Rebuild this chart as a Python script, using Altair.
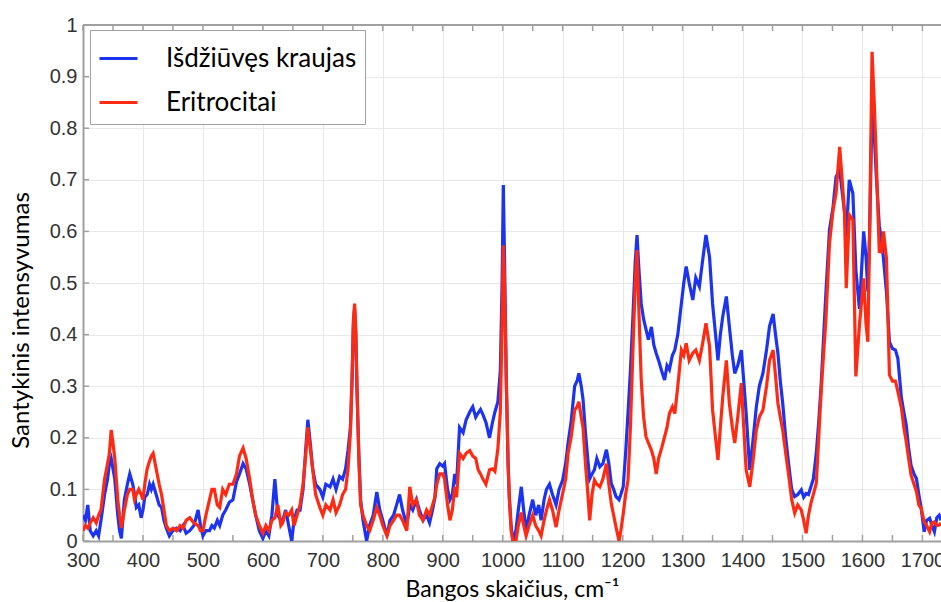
import altair as alt
import pandas as pd

# Raman spectra: relative intensity vs. wavenumber (cm^-1)
wavenumber = [
    300, 304, 308, 312, 317, 322, 326, 330, 336, 341, 344, 347, 350, 353, 358, 361, 364, 369, 374, 378,
    383, 386, 389, 393, 397, 400, 403, 407, 411, 414, 417, 422, 427, 431, 435, 439, 444, 450, 456, 462,
    467, 472, 478, 485, 492, 496, 500, 505, 511, 515, 519, 524, 528, 533, 538, 544, 550, 556, 561, 567,
    572, 578, 583, 588, 594, 600, 605, 610, 615, 620, 625, 630, 633, 638, 643, 648, 652, 657, 662, 667,
    671, 675, 679, 683, 688, 695, 700, 705, 712, 717, 722, 728, 733, 738, 742, 746, 749, 751, 753, 755,
    757, 760, 763, 767, 773, 778, 784, 790, 795, 800, 807, 812, 818, 823, 828, 833, 840, 845, 850, 856,
    861, 867, 873, 878, 883, 887, 890, 895, 900, 903, 908, 912, 916, 920, 923, 928, 934, 939, 945, 950,
    955, 959, 963, 967, 972, 978, 983, 987, 992, 996, 999, 1001, 1003, 1006, 1009, 1011, 1014, 1017, 1022, 1026,
    1031, 1035, 1039, 1044, 1050, 1055, 1060, 1064, 1069, 1073, 1078, 1083, 1089, 1094, 1100, 1105, 1109, 1114, 1120, 1124,
    1127, 1131, 1134, 1138, 1142, 1145, 1149, 1153, 1157, 1162, 1167, 1173, 1177, 1181, 1185, 1189, 1194, 1197, 1201, 1205,
    1209, 1213, 1217, 1221, 1224, 1227, 1231, 1235, 1239, 1243, 1248, 1252, 1256, 1260, 1265, 1270, 1274, 1278, 1283, 1287,
    1292, 1298, 1302, 1306, 1311, 1317, 1322, 1328, 1333, 1339, 1345, 1350, 1355, 1359, 1363, 1367, 1373, 1378, 1383, 1387,
    1392, 1398, 1402, 1406, 1412, 1417, 1423, 1428, 1434, 1440, 1445, 1451, 1455, 1459, 1463, 1467, 1472, 1478, 1482, 1487,
    1492, 1498, 1502, 1506, 1510, 1514, 1518, 1523, 1527, 1531, 1535, 1539, 1545, 1551, 1556, 1562, 1567, 1570, 1573, 1578,
    1584, 1589, 1595, 1602, 1606, 1609, 1612, 1616, 1620, 1623, 1628, 1632, 1635, 1640, 1645, 1650, 1655, 1659, 1665, 1669,
    1673, 1677, 1681, 1686, 1690, 1694, 1698, 1703, 1707, 1712, 1716, 1720, 1724, 1728, 1731,
]

dried_blood = [
    0.05, 0.04, 0.07, 0.02, 0.01, 0.02, 0.01, 0.04, 0.09, 0.12, 0.15, 0.16, 0.14, 0.12, 0.05, 0.02, 0.005, 0.08, 0.11, 0.13,
    0.11, 0.09, 0.065, 0.07, 0.045, 0.06, 0.085, 0.09, 0.11, 0.10, 0.11, 0.09, 0.07, 0.065, 0.04, 0.025, 0.01, 0.02, 0.025, 0.02,
    0.03, 0.015, 0.02, 0.03, 0.06, 0.03, 0.01, 0.02, 0.02, 0.03, 0.025, 0.04, 0.03, 0.05, 0.06, 0.075, 0.08, 0.115, 0.13, 0.15,
    0.14, 0.11, 0.08, 0.05, 0.02, 0.005, 0.02, 0.01, 0.05, 0.12, 0.05, 0.04, 0.04, 0.06, 0.03, 0.0, 0.04, 0.06, 0.06, 0.10,
    0.17, 0.235, 0.19, 0.14, 0.11, 0.10, 0.085, 0.11, 0.105, 0.12, 0.10, 0.125, 0.12, 0.14, 0.175, 0.22, 0.32, 0.42, 0.45, 0.40,
    0.29, 0.17, 0.08, 0.04, 0.0, 0.03, 0.05, 0.095, 0.06, 0.04, 0.01, 0.04, 0.05, 0.07, 0.09, 0.06, 0.03, 0.07, 0.06, 0.08,
    0.06, 0.04, 0.05, 0.035, 0.06, 0.085, 0.14, 0.15, 0.145, 0.15, 0.10, 0.08, 0.09, 0.13, 0.11, 0.22, 0.21, 0.235, 0.25, 0.26,
    0.24, 0.248, 0.255, 0.245, 0.23, 0.20, 0.23, 0.25, 0.27, 0.33, 0.50, 0.69, 0.55, 0.31, 0.15, 0.085, 0.03, 0.0, 0.02, 0.06,
    0.105, 0.06, 0.02, 0.05, 0.08, 0.05, 0.07, 0.04, 0.08, 0.10, 0.11, 0.09, 0.07, 0.10, 0.118, 0.15, 0.19, 0.23, 0.30, 0.31,
    0.325, 0.30, 0.274, 0.21, 0.157, 0.12, 0.13, 0.138, 0.16, 0.144, 0.15, 0.177, 0.15, 0.112, 0.10, 0.086, 0.08, 0.09, 0.105, 0.17,
    0.248, 0.33, 0.43, 0.54, 0.593, 0.53, 0.46, 0.43, 0.41, 0.39, 0.415, 0.38, 0.364, 0.35, 0.33, 0.312, 0.34, 0.332, 0.36, 0.37,
    0.40, 0.46, 0.50, 0.532, 0.50, 0.467, 0.51, 0.493, 0.54, 0.593, 0.55, 0.46, 0.40, 0.35, 0.40, 0.435, 0.474, 0.416, 0.36, 0.325,
    0.34, 0.37, 0.31, 0.248, 0.138, 0.19, 0.26, 0.30, 0.325, 0.37, 0.416, 0.44, 0.40, 0.364, 0.31, 0.267, 0.20, 0.138, 0.10, 0.086,
    0.09, 0.099, 0.085, 0.092, 0.09, 0.105, 0.12, 0.17, 0.23, 0.30, 0.39, 0.48, 0.603, 0.648, 0.706, 0.719, 0.668, 0.638, 0.59, 0.70,
    0.674, 0.525, 0.45, 0.60, 0.55, 0.483, 0.60, 0.838, 0.78, 0.709, 0.612, 0.58, 0.548, 0.483, 0.386, 0.373, 0.37, 0.354, 0.277, 0.25,
    0.225, 0.18, 0.147, 0.13, 0.121, 0.09, 0.063, 0.018, 0.04, 0.044, 0.03, 0.018, 0.045, 0.05, 0.04,
]

erythrocytes = [
    0.02, 0.03, 0.025, 0.035, 0.045, 0.035, 0.05, 0.06, 0.12, 0.15, 0.17, 0.215, 0.19, 0.16, 0.08, 0.05, 0.025, 0.06, 0.09, 0.10,
    0.10, 0.08, 0.09, 0.10, 0.09, 0.08, 0.11, 0.14, 0.155, 0.165, 0.17, 0.14, 0.11, 0.09, 0.06, 0.03, 0.02, 0.025, 0.02, 0.03,
    0.025, 0.04, 0.045, 0.035, 0.03, 0.02, 0.02, 0.05, 0.08, 0.10, 0.10, 0.07, 0.065, 0.10, 0.09, 0.11, 0.11, 0.13, 0.165, 0.18,
    0.16, 0.12, 0.08, 0.05, 0.03, 0.015, 0.03, 0.02, 0.04, 0.045, 0.07, 0.03, 0.035, 0.055, 0.05, 0.06, 0.03, 0.05, 0.07, 0.11,
    0.16, 0.22, 0.18, 0.14, 0.09, 0.065, 0.05, 0.07, 0.06, 0.08, 0.055, 0.07, 0.09, 0.10, 0.14, 0.21, 0.33, 0.43, 0.46, 0.41,
    0.30, 0.16, 0.07, 0.05, 0.03, 0.02, 0.04, 0.065, 0.05, 0.03, 0.01, 0.03, 0.04, 0.05, 0.05, 0.04, 0.02, 0.105, 0.07, 0.08,
    0.05, 0.04, 0.06, 0.05, 0.07, 0.085, 0.11, 0.13, 0.13, 0.12, 0.07, 0.04, 0.06, 0.105, 0.085, 0.17, 0.16, 0.17, 0.175, 0.165,
    0.16, 0.138, 0.13, 0.12, 0.11, 0.138, 0.14, 0.135, 0.18, 0.25, 0.42, 0.573, 0.50, 0.31, 0.15, 0.085, 0.02, 0.0, 0.0, 0.03,
    0.055, 0.03, 0.01, 0.03, 0.05, 0.03, 0.02, 0.01, 0.04, 0.06, 0.08, 0.06, 0.027, 0.06, 0.092, 0.12, 0.17, 0.20, 0.254, 0.26,
    0.27, 0.24, 0.22, 0.15, 0.092, 0.04, 0.09, 0.118, 0.11, 0.105, 0.12, 0.15, 0.11, 0.073, 0.05, 0.027, 0.0, 0.02, 0.053, 0.09,
    0.118, 0.22, 0.364, 0.50, 0.564, 0.45, 0.312, 0.24, 0.202, 0.19, 0.176, 0.16, 0.13, 0.16, 0.18, 0.202, 0.22, 0.247, 0.26, 0.247,
    0.30, 0.37, 0.36, 0.383, 0.35, 0.364, 0.37, 0.35, 0.38, 0.422, 0.377, 0.254, 0.20, 0.157, 0.22, 0.28, 0.35, 0.267, 0.22, 0.19,
    0.24, 0.306, 0.22, 0.138, 0.105, 0.15, 0.215, 0.24, 0.254, 0.30, 0.35, 0.37, 0.32, 0.267, 0.24, 0.215, 0.17, 0.118, 0.08, 0.054,
    0.07, 0.06, 0.04, 0.015, 0.05, 0.073, 0.09, 0.112, 0.20, 0.287, 0.36, 0.429, 0.577, 0.642, 0.674, 0.764, 0.687, 0.638, 0.49, 0.632,
    0.622, 0.319, 0.419, 0.509, 0.42, 0.386, 0.60, 0.948, 0.84, 0.742, 0.561, 0.56, 0.60, 0.548, 0.322, 0.31, 0.31, 0.29, 0.258, 0.22,
    0.193, 0.16, 0.128, 0.11, 0.096, 0.07, 0.063, 0.037, 0.03, 0.018, 0.035, 0.037, 0.03, 0.031, 0.035,
]

series_names = ["Išdžiūvęs kraujas", "Eritrocitai"]
series_colors = ["#1c33f2", "#ff2a12"]

x_ticks_major = list(range(300, 1701, 100))
x_ticks_minor = list(range(300, 1731, 50))
y_ticks = [round(i * 0.1, 1) for i in range(11)]

df = pd.concat([
    pd.DataFrame({"wn": wavenumber, "val": dried_blood, "series": series_names[0]}),
    pd.DataFrame({"wn": wavenumber, "val": erythrocytes, "series": series_names[1]}),
])

W, H = 858, 516
x_scale = alt.Scale(domain=[300, 1731], nice=False, zero=False)
y_scale = alt.Scale(domain=[0, 1], nice=False)
color_scale = alt.Scale(domain=series_names, range=series_colors)

label_font = "Liberation Sans"
text_font = "Lato"

x_axis = alt.Axis(values=x_ticks_major, format="d", title="Bangos skaičius, cm⁻¹", ticks=False,
                  labelFlush=False, labelPadding=9, titlePadding=8, titleFontSize=23, grid=True)
y_axis = alt.Axis(values=y_ticks, format=".1~f", title="Santykinis intensyvumas", ticks=False,
                  labelFlush=False, labelPadding=6, titlePadding=16, titleFontSize=24,
                  titleY=H / 2 + 37, grid=True)

legend = alt.Legend(title=None, orient="none", legendX=7, legendY=5,
                    symbolType="stroke", symbolStrokeWidth=3, symbolSize=1444,
                    labelFont=text_font, labelFontSize=26, labelColor="#000000",
                    labelOffset=27, labelLimit=400, rowPadding=10, padding=8,
                    strokeColor="#a0a0a0", fillColor="#ffffff")

def spectrum(name):
    return alt.Chart(df).transform_filter(alt.datum.series == name).mark_line(
        strokeWidth=3.2, clip=True
    ).encode(
        x=alt.X("wn:Q", scale=x_scale, axis=x_axis),
        y=alt.Y("val:Q", scale=y_scale, axis=y_axis),
        color=alt.Color("series:N", scale=color_scale, legend=legend, sort=series_names),
    )

ticks_x = pd.DataFrame({"t": x_ticks_minor})
ticks_y = pd.DataFrame({"t": y_ticks})

bottom_ticks = alt.Chart(ticks_x).mark_rule(color="#a0a0a0", strokeWidth=1.5).encode(
    x=alt.X("t:Q", scale=x_scale), y=alt.value(H), y2=alt.value(H - 6))
top_ticks = alt.Chart(ticks_x).mark_rule(color="#a0a0a0", strokeWidth=1.5).encode(
    x=alt.X("t:Q", scale=x_scale), y=alt.value(0), y2=alt.value(6))
left_ticks = alt.Chart(ticks_y).mark_rule(color="#a0a0a0", strokeWidth=1.5).encode(
    y=alt.Y("t:Q", scale=y_scale), x=alt.value(0), x2=alt.value(6))
top_border = alt.Chart(ticks_y).mark_rule(color="#a0a0a0", strokeWidth=2).encode(
    x=alt.value(0), x2=alt.value(W), y=alt.value(0))

chart = alt.layer(
    bottom_ticks, top_ticks, left_ticks,
    spectrum(series_names[0]), spectrum(series_names[1]),
    top_border,
).properties(
    width=W, height=H,
    padding={"left": 83, "top": 25, "right": 0, "bottom": 61},
    autosize="none",
).configure_view(
    stroke=None
).configure_axis(
    domainColor="#a0a0a0", domainWidth=2,
    gridColor="#e8e8e8", gridWidth=1,
    labelFont=label_font, labelFontSize=20, labelColor="#333333",
    titleFont=text_font, titleFontWeight="normal", titleColor="#000000",
)

chart.save("out.html", embed_options={"renderer": "svg", "actions": False})
